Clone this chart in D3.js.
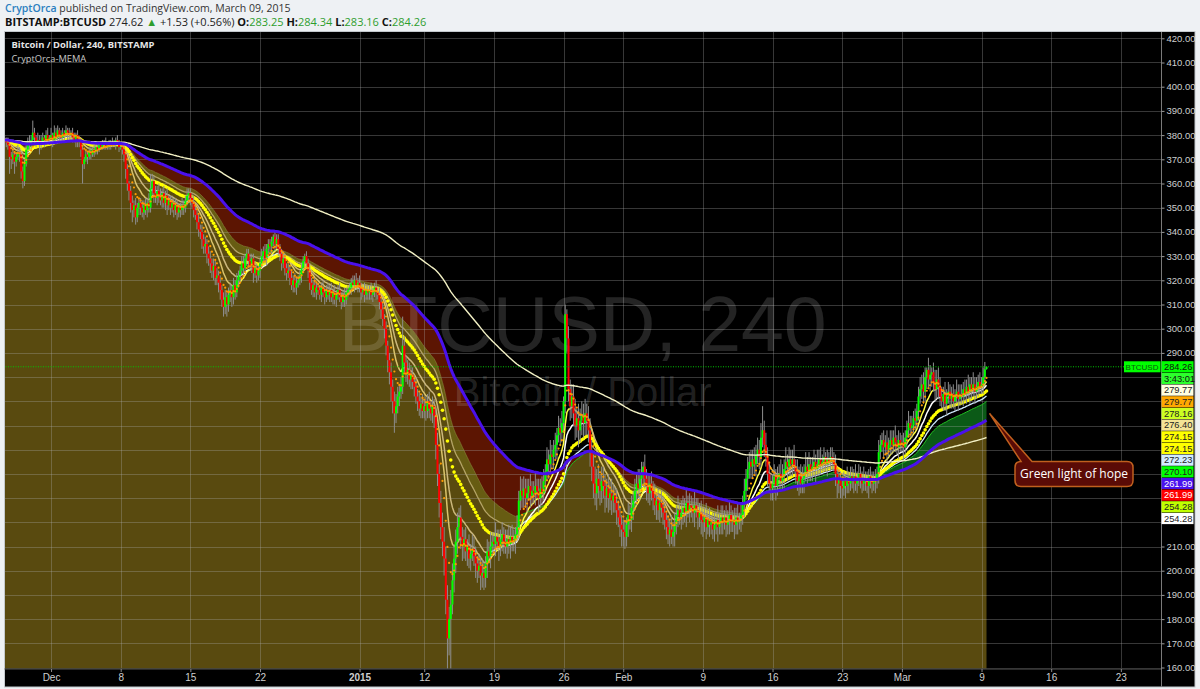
<!DOCTYPE html>
<html><head><meta charset="utf-8">
<script src="https://cdn.jsdelivr.net/npm/d3@7"></script>
<style>
body{margin:0;background:#eef1f4;}
svg{display:block}
</style></head>
<body><svg id="c" width="1200" height="689"></svg>
<script>
// ---------------- DATA ----------------
const startTime = "2014-11-26T08:00:00Z";           // first 4h bar
const outage = ["2015-01-05T08:00:00Z", "2015-01-09T20:00:00Z"]; // Bitstamp offline (no bars)
const firstOpen = 378;
const closes = [
378,377,376,371,
370,372,369,371,373,372,
365,361,368,374,377,376,
378,381,379,377,378,376,
377,379,378,380,378,379,
380,378,381,379,382,380,
379,381,380,382,381,380,
381,379,378,380,377,378,
374,368,370,372,371,373,
372,374,373,375,374,376,
375,376,377,375,376,377,
376,377,376,378,377,375,
375,374,372,366,360,357,
352,349,351,346,350,352,
350,348,351,349,352,350,
358,361,356,354,357,355,
353,356,352,355,351,353,
350,352,349,351,348,350,
349,351,350,353,355,356,
354,352,349,347,344,341,
340,337,334,335,331,329,
327,324,326,321,322,319,
316,312,309,313,310,314,
316,313,318,315,320,322,
324,327,325,329,331,328,
326,329,323,325,322,324,
327,330,332,329,333,335,
334,336,338,335,337,333,
331,327,329,325,323,324,
321,318,320,317,319,320,
322,325,328,330,327,324,
319,316,318,315,317,316,
314,317,315,313,316,314,
316,313,315,312,314,316,
313,311,314,312,315,316,
317,319,318,320,318,319,
317,315,316,314,316,315,
316,314,315,317,315,314,
311,308,304,300,293,287,
282,276,270,265,268,272,
274,276,293,
286,281,283,279,281,278,
276,272,270,267,269,266,
268,266,270,267,265,268,
264,252,240,228,218,212,
205,188,172,180,186,196,
205,212,218,222,214,210,
213,208,210,205,207,209,
206,203,200,202,198,199,
197,203,208,206,210,212,
211,214,212,210,213,215,
212,210,213,211,214,212,
213,215,218,229,233,231,
234,230,232,235,231,233,
232,235,233,230,234,232,
237,241,246,244,248,247,
250,252,256,259,257,261,
270,306,296,275,268,272,
265,260,263,258,262,264,
261,265,262,258,250,243,
236,232,238,235,233,237,
235,231,234,230,232,229,
231,228,225,222,219,217,
216,214,219,223,221,226,
229,233,236,234,238,240,
243,238,235,232,236,233,
230,227,229,225,228,226,
224,221,218,215,217,214,
216,219,223,225,222,224,
226,224,228,225,227,226,
224,227,225,222,224,221,
220,222,218,221,219,220,
217,219,221,218,220,222,
220,222,219,221,223,220,
221,219,222,220,221,223,
227,233,238,242,245,243,
246,244,248,250,247,255,
258,252,247,240,236,234,
236,239,235,238,240,237,
239,242,245,243,246,244,
246,243,241,237,239,236,
238,240,243,241,244,242,
243,245,242,244,246,244,
245,247,244,246,245,247,
246,244,240,236,238,235,
234,237,235,238,236,239,
237,239,236,238,240,238,
236,238,237,235,239,237,
236,238,237,240,249,252,
254,251,253,250,252,254,
252,255,253,251,254,252,
253,251,255,258,261,259,
260,263,262,266,272,275,
277,274,280,283,279,281,
282,278,275,279,276,272,
270,273,269,272,274,271,
273,270,272,274,271,273,
272,275,273,276,274,277,
275,277,274,276,278,276,
277,280,283.25,284.26
];
const wickUp = [
2,1,2,1,
2,3,1,2,3,2, 1,2,2,3,2,3, 2,5,2,1,3,2, 3,2,1,2,3,1,
3,1,3,2,2,1, 2,2,1,2,1,2, 1,2,2,1,2,1, 1,2,1,2,1,2, 2,1,2,1,2,1,
1,2,1,2,1,1, 1,2,1,1,2,1, 2,1,2,1,2,1, 2,3,2,3,2,2, 2,3,2,3,2,4,
6,3,2,3,2,3, 3,2,3,2,3,2, 2,3,2,3,2,2, 2,3,2,2,3,2, 2,2,3,2,2,3,
2,3,2,3,2,3, 3,2,3,2,3,2, 3,2,3,3,2,3, 3,2,3,2,3,2, 2,3,3,2,2,2,
3,2,2,3,2,2, 2,3,2,3,2,2, 2,2,1,2,2,2, 2,2,3,2,2,3, 2,3,2,3,2,2,
2,2,2,1,2,2, 3,2,2,3,2,2, 2,2,3,2,2,3, 2,3,2,3,2,2, 3,2,2,3,2,2,
2,2,3,2,3,2,
3,2,2,3,2,2, 2,3,2,2,3,2, 3,2,3,2,3,2, 3,4,3,4,5,4,
3,4,12,
4,3,4,3,4,3, 3,4,3,4,3,4, 3,4,3,4,3,4, 3,4,5,4,5,6, 6,5,6,5,6,7,
6,5,6,4,5,4, 4,5,3,5,4,6, 5,4,3,5,4,6, 5,3,5,4,6,4, 4,6,3,5,4,5,
3,5,4,6,4,5, 4,3,5,4,6,5, 5,4,6,3,5,4, 4,6,3,5,4,5, 5,3,5,4,6,4,
4,5,3,5,4,5, 2,4,2,5,4,5, 5,6,4,6,5,6, 5,6,4,6,5,4, 5,7,4,6,5,6,
6,5,4,6,5,6, 5,4,6,4,5,4,
4,5,3,5,4,5, 4,5,4,6,4,5, 2,5,4,5,4,5, 4,6,3,5,4,5, 5,4,3,5,4,6,
4,5,4,6,3,5, 5,4,6,3,5,4, 4,6,3,5,4,5, 5,4,6,4,5,3, 4,5,3,6,4,5,
5,3,5,4,6,4, 4,5,4,6,3,5, 4,5,4,5,4,5, 4,5,4,5,4,6, 10,4,5,4,5,4,
4,5,3,5,4,6, 5,4,6,3,5,4, 4,6,3,5,4,5, 5,4,6,4,5,3, 4,5,3,6,4,5,
3,4,2,4,3,4, 4,3,4,2,4,3, 3,4,3,5,3,4, 4,3,5,3,4,3, 3,5,3,4,3,4,
4,3,4,3,5,4, 3,4,3,5,3,4, 4,3,5,3,4,3,
3,4,3,4,5,3, 4,3,4,3,4,5, 4,5,4,1,5,4, 2,4,5,4,5,4, 4,3,5,3,4,3,
3,4,3,5,3,4, 4,3,4,3,5,3, 3,5,3,4,3,4, 3,4,3,0.08
];
const wickDown = [
1,2,2,7,
4,2,5,2,1,3, 3,3,2,1,2,2, 2,1,3,2,1,4, 2,1,3,2,1,2,
1,3,2,1,2,3, 2,1,2,1,3,2, 2,2,1,3,2,2, 3,8,2,1,3,1, 2,1,2,1,2,1,
1,1,2,1,1,2, 2,1,1,2,1,2, 1,2,3,4,3,4, 4,5,3,3,2,3, 3,2,3,2,3,2,
2,3,4,2,3,3, 2,3,2,3,4,2, 3,2,3,2,3,2, 3,2,3,2,2,3, 3,2,3,2,3,3,
3,4,3,3,4,3, 4,3,4,3,3,4, 4,3,4,3,5,3, 3,4,3,3,2,3, 3,2,3,2,3,3,
2,3,4,2,3,2, 3,2,3,2,3,2, 2,3,2,3,2,3, 3,3,2,3,3,2, 3,2,3,2,3,2,
2,3,2,3,2,3, 3,2,3,2,3,2, 2,3,2,3,2,2, 3,2,3,2,3,2, 2,3,2,3,2,2,
2,3,2,3,2,3,
2,3,2,3,2,3, 3,2,3,2,3,2, 3,4,3,4,4,5, 5,6,5,8,4,3,
4,3,3,
4,3,4,3,4,3, 4,3,4,3,4,3, 3,4,3,4,3,4, 5,6,5,6,5,6, 7,6,20,7,22,4,
5,6,5,6,5,6, 5,4,6,4,5,3, 4,6,5,3,6,5, 5,4,6,3,5,4, 4,5,3,6,4,5,
5,3,5,4,6,4, 4,6,3,5,4,5, 5,4,6,3,5,4, 4,5,3,6,4,5, 3,5,4,6,4,5,
5,4,6,3,5,4, 4,5,6,5,6,5, 5,6,5,7,5,6, 6,5,6,5,7,6, 6,5,7,5,6,5,
5,7,5,6,5,6, 5,4,6,4,5,7,
6,5,4,5,4,5, 5,4,6,4,5,4, 5,4,6,4,5,4, 5,4,6,4,5,4, 5,4,5,4,5,3,
4,6,4,5,3,5, 5,4,6,3,5,4, 4,6,3,5,4,6, 6,4,5,3,5,4, 4,5,4,6,3,5,
5,3,5,4,6,4, 4,6,4,5,3,5, 4,5,4,5,4,5, 5,4,5,4,5,4, 4,5,4,5,4,5,
5,4,6,4,5,3, 4,5,3,6,4,5, 5,3,5,4,6,4, 4,6,3,5,4,5, 5,4,6,3,5,4,
3,4,3,5,3,4, 4,3,5,6,4,5, 4,3,5,3,4,3, 3,5,3,4,3,4, 4,3,4,3,5,3,
4,3,5,3,4,3, 3,4,3,5,3,4, 4,3,4,3,5,3,
3,5,3,4,3,4, 4,3,4,3,4,3, 4,5,4,5,4,5, 5,4,5,4,5,4, 3,4,3,5,3,4,
4,3,4,3,5,3, 3,4,3,4,3,5, 4,3,5,3,4,3, 3,4,3,0.09
];
const tickDates = ["2014-12-01","2014-12-08","2014-12-15","2014-12-22","2015-01-01","2015-01-12","2015-01-19","2015-01-26","2015-02-01","2015-02-09","2015-02-16","2015-02-23","2015-03-01","2015-03-09","2015-03-16","2015-03-23"];
const tickLabels = ["Dec","8","15","22","2015","12","19","26","Feb","9","16","23","Mar","9","16","23"];
const priceTicks = [160,170,180,190,200,210,220,230,240,250,260,270,280,290,300,310,320,330,340,350,360,370,380,390,400,410,420];
const ribbonPeriods = [8,13,21,34,44,55];
const slowPeriod = 100, longPeriod = 240;
const lastPrice = 284.26;
const tagTexts = ["284.26","3:43:01","279.77","279.77","278.16","276.40","274.15","274.15","272.23","270.10","261.99","261.99","254.28","254.28"];
const tagFills = ["#00ff00","#2cff2c","#ffffe0","#ffa800","#ccff22","#f4e496","#ffff00","#ffff00","#d2ecff","#00ff00","#4a12ee","#ff0000","#c0ff00","#ffffff"];
const tagInk   = ["#111","#111","#222","#222","#222","#222","#222","#222","#222","#222","#fff","#fff","#222","#222"];
const annotationText = "Green light of hope";
const annotationPrice = 265;

// ---------------- SETUP ----------------
const svg = d3.select("#c");
const P = {left:4.5, right:1161, top:32, bottom:668.5, axisBottom:687, outerRight:1195};
const FOURH = 4*3600*1000;
const n = closes.length;

const times = [];
{ let t = Date.parse(startTime); const o0 = Date.parse(outage[0]), o1 = Date.parse(outage[1]);
  for (let i=0;i<n;i++){ if (t>=o0 && t<o1) t=o1; times.push(t); t+=FOURH; } }
function idxOf(dateStr){
  const t = Date.parse(dateStr+"T00:00:00Z");
  const k = times.indexOf(t);
  if (k>=0) return k;
  return (n-1) + (t - times[n-1])/FOURH;
}

const x = d3.scaleLinear().domain([0, n-1]).range([4.6, 986.5]);
const y = d3.scaleLinear().domain([160, 420]).range([667.5, 38.3]);

function ema(arr, p){ const a = 2/(p+1); let e = arr[0]; return arr.map((v,i)=> i===0 ? e : (e = e + a*(v-e))); }
const R = ribbonPeriods.map(p=>ema(closes,p));
const [e8,e13,e21,e34,e44,e55] = R;
const eSlow = ema(closes, slowPeriod), eLong = ema(closes, longPeriod);
const idx = d3.range(n);

// ---------------- BACKGROUND ----------------
svg.append("rect").attr("width",1200).attr("height",689).attr("fill","#eef1f4");
svg.append("rect").attr("x",P.left).attr("y",P.top-0.5).attr("width",P.outerRight-P.left).attr("height",P.axisBottom-P.top+0.5)
  .attr("fill","#000").attr("stroke","#c3c8cc").attr("stroke-width",1);

const defs = svg.append("defs");
defs.append("clipPath").attr("id","plotclip").append("rect")
  .attr("x",P.left+0.5).attr("y",P.top).attr("width",P.right-P.left-0.5).attr("height",P.bottom-P.top);
const g = svg.append("g").attr("clip-path","url(#plotclip)");

// ---------------- FILLS ----------------
g.append("path").attr("fill","#594a0f")
  .attr("d", d3.area().x(i=>x(i)).y0(P.bottom+1).y1(i=>y(Math.min(e55[i], eSlow[i])))(idx));
g.append("path").attr("fill","#5c1502")
  .attr("d", d3.area().x(i=>x(i)).y0(i=>y(e55[i])).y1(i=>y(Math.max(eSlow[i], e55[i])))(idx));
g.append("path").attr("fill","#0b5a17")
  .attr("d", d3.area().x(i=>x(i)).y0(i=>y(eSlow[i])).y1(i=>y(Math.max(eSlow[i], e55[i])))(idx));
g.append("path").attr("fill","rgba(140,140,30,0.28)")
  .attr("d", d3.area().x(i=>x(i)).y0(i=>y(e44[i])).y1(i=>y(Math.max(e44[i], e55[i])))(idx));

// ---------------- GRID ----------------
const tickIdx = tickDates.map(idxOf);
const gridCol = "rgba(170,170,170,0.32)";
g.selectAll("line.hg").data(priceTicks).join("line").attr("class","hg")
  .attr("x1",P.left).attr("x2",P.right).attr("y1",d=>Math.round(y(d))+0.5).attr("y2",d=>Math.round(y(d))+0.5)
  .attr("stroke",gridCol);
g.selectAll("line.vg").data(tickIdx).join("line").attr("class","vg")
  .attr("x1",d=>Math.round(x(d))+0.5).attr("x2",d=>Math.round(x(d))+0.5).attr("y1",P.top).attr("y2",P.bottom)
  .attr("stroke",gridCol);

// ---------------- WATERMARK ----------------
const cx = (P.left+P.right)/2;
g.append("text").attr("x",cx).attr("y",351).attr("text-anchor","middle")
  .style("font","77px 'Liberation Sans', Arial, sans-serif").attr("fill","rgba(255,255,255,0.14)").text("BTCUSD, 240");
g.append("text").attr("x",cx).attr("y",406).attr("text-anchor","middle")
  .style("font","40px 'Liberation Sans', Arial, sans-serif").attr("fill","rgba(255,255,255,0.14)").text("Bitcoin / Dollar");

// ---------------- RIBBON LINES ----------------
function trendLine(vals, up, down, w){
  const runs=[]; let cur=null;
  for (let i=1;i<n;i++){
    const col = vals[i]>=vals[i-1] ? up : down;
    if (!cur || cur.col!==col){ cur={col, pts:[i-1]}; runs.push(cur); }
    cur.pts.push(i);
  }
  const line = d3.line().x(i=>x(i)).y(i=>y(vals[i]));
  runs.forEach(r=> g.append("path").attr("d",line(r.pts)).attr("fill","none").attr("stroke",r.col).attr("stroke-width",w));
}
trendLine(e55, "#22c022", "rgba(150,140,60,0.6)", 1);
trendLine(e44, "#cfeaff", "#b4a466", 1.3);
trendLine(e21, "#ffffff", "#cbb77c", 1.5);
trendLine(e13, "#ffff44", "#d9c36c", 1.5);
g.selectAll("circle.e34").data(idx).join("circle").attr("class","e34")
  .attr("cx",i=>x(i)).attr("cy",i=>y(e34[i])).attr("r",1.8).attr("fill","#ffff00");

// ---------------- CANDLES ----------------
const bars = closes.map((c,i)=>{ const o = i ? closes[i-1] : firstOpen;
  return {i,o,c,h:Math.max(o,c)+wickUp[i], l:Math.min(o,c)-wickDown[i]}; });
g.selectAll("line.wick").data(bars).join("line").attr("class","wick")
  .attr("x1",d=>x(d.i)).attr("x2",d=>x(d.i)).attr("y1",d=>y(d.h)).attr("y2",d=>y(d.l))
  .attr("stroke","#8e8e8e").attr("stroke-width",1);
g.selectAll("rect.body").data(bars).join("rect").attr("class","body")
  .attr("x",d=>x(d.i)-1).attr("width",2)
  .attr("y",d=>y(Math.max(d.o,d.c))).attr("height",d=>Math.max(1.2, y(Math.min(d.o,d.c))-y(Math.max(d.o,d.c))))
  .attr("fill",d=>d.c>=d.o ? "#00ff00" : "#ff0000");

g.selectAll("circle.e8").data(idx).join("circle").attr("class","e8")
  .attr("cx",i=>x(i)).attr("cy",i=>y(e8[i])).attr("r",1.1).attr("fill","#ff9a00");

// ---------------- SLOW LINES ----------------
g.append("path").attr("d", d3.line().x(i=>x(i)).y(i=>y(eLong[i]))(idx))
  .attr("fill","none").attr("stroke","#f2f0c4").attr("stroke-width",1.4);
g.append("path").attr("d", d3.line().x(i=>x(i)).y(i=>y(eSlow[i]))(idx))
  .attr("fill","none").attr("stroke","#4a10ec").attr("stroke-width",3);

// ---------------- LAST PRICE LINE ----------------
const yLast = y(lastPrice);
svg.append("line").attr("x1",P.left+1).attr("x2",1124).attr("y1",yLast).attr("y2",yLast)
  .attr("stroke","#00c800").attr("stroke-dasharray","1,1.5").attr("stroke-width",1);

// ---------------- AXES ----------------
svg.append("line").attr("x1",P.right+0.5).attr("x2",P.right+0.5).attr("y1",P.top).attr("y2",P.axisBottom).attr("stroke","#7a7a7a");
svg.append("line").attr("x1",P.left).attr("x2",P.right).attr("y1",P.bottom+0.5).attr("y2",P.bottom+0.5).attr("stroke","#555");

const tagStep = 11.67;
const tagTop = yLast - 7, tagBottom = yLast + (tagTexts.length-1)*tagStep + 7;
const ay = svg.append("g").attr("transform",`translate(${P.right+0.5},0)`)
  .call(d3.axisRight(y).tickValues(priceTicks).tickFormat(d3.format(".2f")).tickSize(3).tickPadding(2));
ay.select(".domain").remove();
ay.selectAll("line").attr("stroke","#9a9a9a");
ay.selectAll("text").attr("fill","#cfcfcf").style("font","9.5px 'Liberation Sans', Arial, sans-serif");
ay.selectAll(".tick").filter(d=> y(d) > tagTop && y(d) < tagBottom).select("text").remove();

const ax = svg.append("g").attr("transform",`translate(0,${P.bottom+0.5})`)
  .call(d3.axisBottom(x).tickValues(tickIdx).tickFormat((d,i)=>tickLabels[i]).tickSize(3).tickPadding(2));
ax.select(".domain").remove();
ax.selectAll("line").attr("stroke","#8a8a8a");
ax.selectAll("text").attr("fill","#cfcfcf").style("font","10px 'Liberation Sans', Arial, sans-serif")
  .style("font-weight",(d,i)=> tickLabels[i]==="2015" ? "bold" : "normal");

// ---------------- PRICE TAGS ----------------
const tg = svg.append("g");
tg.append("rect").attr("x",1124).attr("y",yLast-5.5).attr("width",36.5).attr("height",11).attr("fill","#00ff00");
tg.append("text").attr("x",1142).attr("y",yLast).attr("dy","0.35em").attr("text-anchor","middle")
  .style("font","8px 'Liberation Sans', Arial, sans-serif").attr("fill","#0b5a0b").text("BTCUSD");
tagTexts.forEach((t,k)=>{
  const yy = yLast + k*tagStep;
  tg.append("rect").attr("x",P.right+0.5).attr("y",yy-5.6).attr("width",32).attr("height",11.2).attr("fill",tagFills[k]);
  tg.append("text").attr("x",P.right+3).attr("y",yy).attr("dy","0.35em")
    .style("font","9.3px 'Liberation Sans', Arial, sans-serif").attr("fill",tagInk[k]).text(t);
});

// ---------------- TITLES ----------------
svg.append("text").attr("x",11.5).attr("y",48).style("font","bold 9.4px 'Open Sans', sans-serif").attr("fill","#e6e6e6")
  .text("Bitcoin / Dollar, 240, BITSTAMP");
svg.append("text").attr("x",11.5).attr("y",62).style("font","9.3px 'Open Sans', sans-serif").attr("fill","#c8c8c8")
  .text("CryptOrca-MEMA");

const h1 = svg.append("text").attr("x",5).attr("y",12).style("font","10.5px 'Open Sans', sans-serif");
h1.append("tspan").attr("fill","#2b7fc0").style("font-weight","600").text("CryptOrca");
h1.append("tspan").attr("fill","#333").text(" published on TradingView.com, March 09, 2015");

const h2 = svg.append("text").attr("x",5).attr("y",25.5).attr("xml:space","preserve")
  .style("font","11px 'Open Sans', sans-serif").attr("fill","#222");
const G = "#2e9e2e";
[["BITSTAMP:BTCUSD","#111","bold"],[" 274.62 ","#222","normal"],["▲","#2e9e2e","normal"],[" +1.53 (+0.56%) ","#222","normal"],
 ["O:","#111","bold"],["283.25",G,"normal"],[" H:","#111","bold"],["284.34",G,"normal"],[" L:","#111","bold"],["283.16",G,"normal"],
 [" C:","#111","bold"],["284.26",G,"normal"]].forEach(([t,c,w])=>{
  h2.append("tspan").attr("fill",c).style("font-weight",w).style("white-space","pre").text(t);
});

// ---------------- ANNOTATION ----------------
const tipX = x(n-1)+3, tipY = y(annotationPrice);
const bx = tipX+25.5, by = tipY+48, bw = 118, bh = 25, r = 6;
const px0 = bx+6, px1 = bx+17;
const path = `M${bx+r},${by} L${px0},${by} L${tipX},${tipY} L${px1},${by} L${bx+bw-r},${by} Q${bx+bw},${by} ${bx+bw},${by+r}
 L${bx+bw},${by+bh-r} Q${bx+bw},${by+bh} ${bx+bw-r},${by+bh} L${bx+r},${by+bh} Q${bx},${by+bh} ${bx},${by+bh-r}
 L${bx},${by+r} Q${bx},${by} ${bx+r},${by} Z`;
svg.append("path").attr("d",path).attr("fill","#5a0b06").attr("stroke","#c0601e").attr("stroke-width",1.5);
svg.append("text").attr("x",bx+bw/2).attr("y",by+bh/2).attr("dy","0.35em").attr("text-anchor","middle")
  .style("font","12px 'Open Sans', sans-serif").attr("fill","#ffffff").text(annotationText);
</script>
</body></html>
